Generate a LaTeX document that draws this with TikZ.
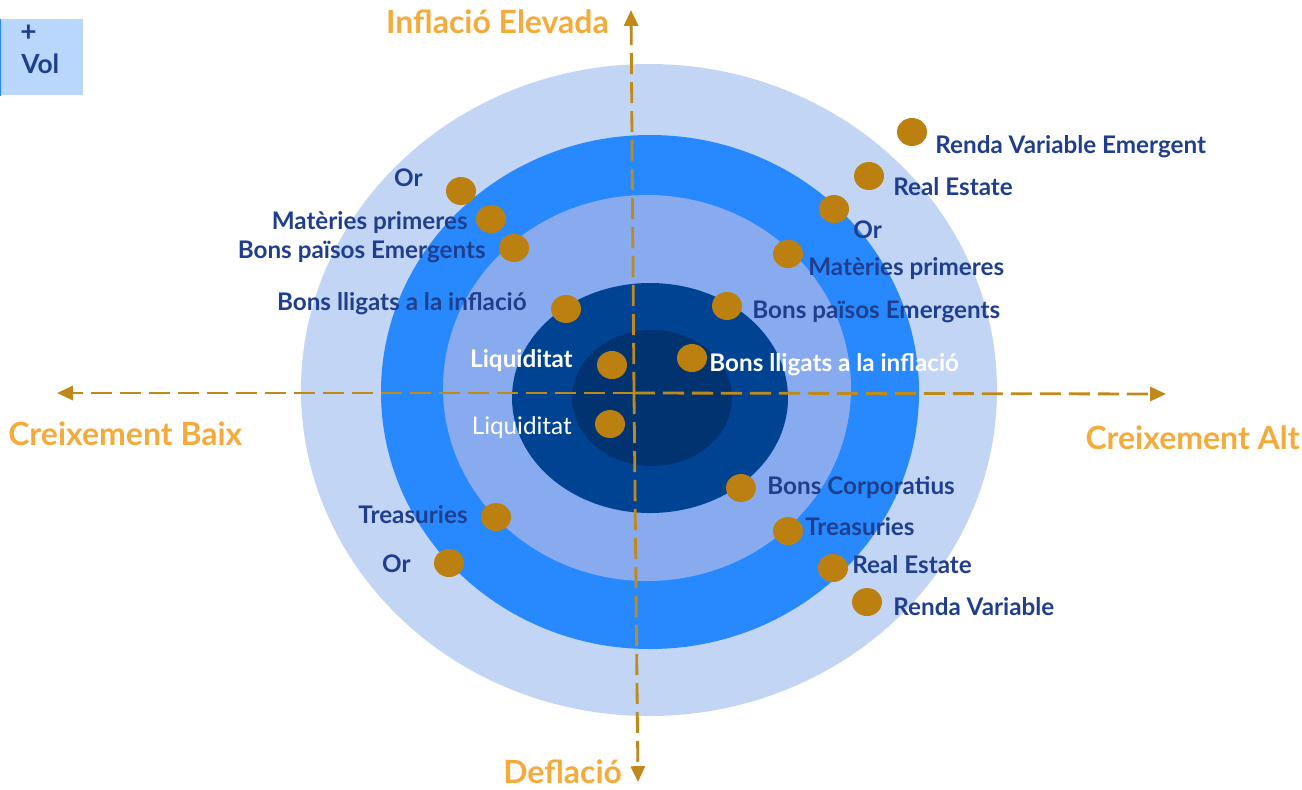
\documentclass[tikz,border=0pt]{standalone}
\usepackage{fontspec}
\setmainfont{Lato}
\usetikzlibrary{arrows.meta,shapes.geometric}

\definecolor{ringA}{HTML}{C3D5F5}
\definecolor{ringB}{HTML}{2889FF}
\definecolor{ringC}{HTML}{88ABEF}
\definecolor{ringD}{HTML}{004393}
\definecolor{ringE}{HTML}{003370}
\definecolor{dotcol}{HTML}{BB8010}
\definecolor{axiscol}{HTML}{C08A1A}
\definecolor{navy}{HTML}{1F3F8E}
\definecolor{titlecol}{HTML}{F5AB3C}
\definecolor{volfill}{HTML}{B9D6FD}

\tikzset{
  asset/.style={ellipse, fill=dotcol, inner sep=0pt,
    minimum width=0.6cm, minimum height=0.56cm},
  lbl/.style={inner sep=0pt, text=navy, font=\bfseries\fontsize{13.8}{15}\selectfont},
  wlbl/.style={lbl, text=white},
  title/.style={inner sep=0pt, text=titlecol, font=\bfseries\fontsize{18.2}{20}\selectfont},
  axis/.style={axiscol, line width=1.6pt, dash pattern=on 12pt off 4.5pt,
    -{Triangle[length=9pt,width=8pt]}},
}

\begin{document}
\begin{tikzpicture}[x=0.02cm, y=-0.02cm]
  \useasboundingbox (0,0) rectangle (1302,789);

  % rings
  \fill[ringA] (649,390) ellipse [x radius=348, y radius=326];
  \fill[ringB] (650,392) ellipse [x radius=269, y radius=257];
  \fill[ringC] (647,388) ellipse [x radius=204, y radius=193];
  \fill[ringD] (650,398) ellipse [x radius=138, y radius=115];
  \fill[ringE] (652,398) ellipse [x radius=80, y radius=68];

  % axes
  \coordinate (center) at (634,393);
  \coordinate (up) at (631,10);
  \coordinate (down) at (638,782);
  \coordinate (left) at (57,393);
  \coordinate (right) at (1166,394);
  \draw[axis] (center) -- (up);
  \draw[axis] (center) -- (down);
  \draw[axis] (center) -- (left);
  \draw[axis] (center) -- (right);

  \node[title, anchor=east] (infl) at (609,22) {Inflació Elevada};
  \node[title, anchor=west] (defl) at (503,772) {Deflació};
  \node[title, anchor=west] (baix) at (8,434) {Creixement Baix};
  \node[title, anchor=east] (alt) at (1300,438) {Creixement Alt};

  % volatility box
  \node[fill=volfill, anchor=north west, inner sep=0pt,
    minimum width=1.66cm, minimum height=1.52cm] (vol) at (0,19) {};
  \draw[ringB, line width=1pt] (vol.north west) -- (vol.south west);
  \node[lbl, font=\bfseries\fontsize{16}{18}\selectfont, anchor=west] (plus) at (20,33) {+};
  \node[lbl, font=\bfseries\fontsize{15}{17}\selectfont, anchor=west] (voltxt) at (21,64) {Vol};

  % left side assets
  \node[asset] (l1) at (461,191) {};
  \node[asset] (l2) at (491,219) {};
  \node[asset] (l3) at (514,248) {};
  \node[asset] (l4) at (566,309) {};
  \node[asset] (l5) at (612,365) {};
  \node[asset] (l6) at (610,424) {};
  \node[asset] (l7) at (496,517) {};
  \node[asset] (l8) at (449,563) {};
  \node[lbl, anchor=east] (l1t) at (423,178) {Or};
  \node[lbl, anchor=east] (l2t) at (468,223) {Matèries primeres};
  \node[lbl, anchor=east] (l3t) at (486,252) {Bons països Emergents};
  \node[lbl, anchor=east] (l4t) at (527,304) {Bons lligats a la inflació};
  \node[wlbl, anchor=east] (l5t) at (573,361) {Liquiditat};
  \node[wlbl, font=\fontsize{13.8}{15}\selectfont, anchor=east] (l6t) at (572,428) {Liquiditat};
  \node[lbl, anchor=east] (l7t) at (468,515) {Treasuries};
  \node[lbl, anchor=east] (l8t) at (411,564) {Or};

  % right side assets
  \node[asset] (r1) at (912,132) {};
  \node[asset] (r2) at (869,176) {};
  \node[asset] (r3) at (834,209) {};
  \node[asset] (r4) at (788,254) {};
  \node[asset] (r5) at (727,306) {};
  \node[asset] (r6) at (692,358) {};
  \node[asset] (r7) at (741,488) {};
  \node[asset] (r8) at (788,531) {};
  \node[asset] (r9) at (833,568) {};
  \node[asset] (r10) at (867,602) {};
  \node[lbl, anchor=west] (r1t) at (935,147) {Renda Variable Emergent};
  \node[lbl, anchor=west] (r2t) at (893,187) {Real Estate};
  \node[lbl, anchor=west] (r3t) at (853,230) {Or};
  \node[lbl, anchor=west] (r4t) at (808,269) {Matèries primeres};
  \node[lbl, anchor=west] (r5t) at (752,312) {Bons països Emergents};
  \node[wlbl, anchor=west] (r6t) at (709,365) {Bons lligats a la inflació};
  \node[lbl, anchor=west] (r7t) at (767,488) {Bons Corporatius};
  \node[lbl, anchor=west] (r8t) at (805,527) {Treasuries};
  \node[lbl, anchor=west] (r9t) at (852,565) {Real Estate};
  \node[lbl, anchor=west] (r10t) at (893,607) {Renda Variable};
\end{tikzpicture}
\end{document}
